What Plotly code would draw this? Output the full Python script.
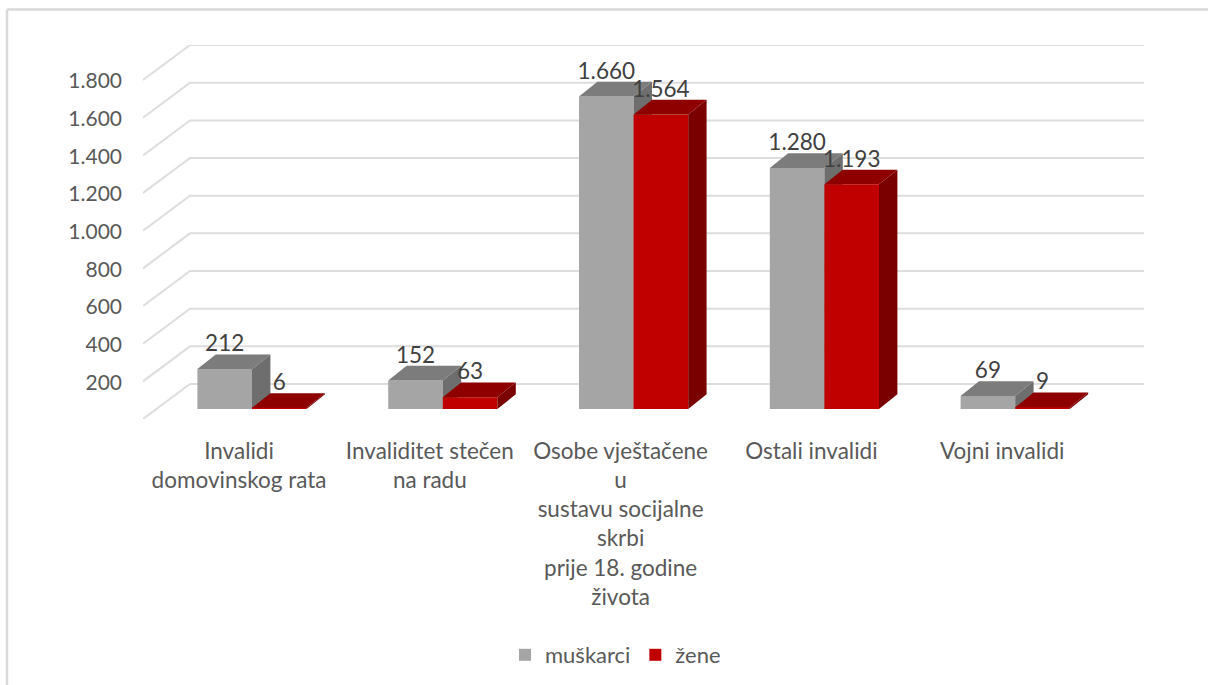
import plotly.graph_objects as go

# ---- data ----
categories = ["Invalidi<br>domovinskog rata", "Invaliditet stečen<br>na radu",
              "Osobe vještačene<br>u<br>sustavu socijalne<br>skrbi<br>prije 18. godine<br>života",
              "Ostali invalidi", "Vojni invalidi"]
muskarci = [212, 152, 1660, 1280, 69]
zene = [6, 63, 1564, 1193, 9]
y_ticks = [200, 400, 600, 800, 1000, 1200, 1400, 1600, 1800]
y_tick_text = ["200", "400", "600", "800", "1.000", "1.200", "1.400", "1.600", "1.800"]
wall_levels = [0] + y_ticks
label_text_m = ["212", "152", "1.660", "1.280", "69"]
label_text_z = ["6", "63", "1.564", "1.193", "9"]

# ---- geometry (pixels of the 1208x685 page) ----
W, H = 1208, 685
PX_L, PX_R, PX_T, PX_B = 143, 1144, 45, 419
PX_ZERO_X, PX_STEP = 252.0, 190.8        # first group centre, group spacing
PX_ZERO_Y, PX_PER_UNIT = 409.0, 0.1883   # value 0 on the bar front plane

def dx(px): return px / PX_STEP
def dy(px): return px / PX_PER_UNIT

xrange = [(PX_L - PX_ZERO_X) / PX_STEP, (PX_R - PX_ZERO_X) / PX_STEP]
yrange = [(PX_ZERO_Y - PX_B) / PX_PER_UNIT, (PX_ZERO_Y - PX_T) / PX_PER_UNIT]
BAR_W = dx(54.6)
DEP_X, DEP_Y = dx(18.4), dy(14.7)
FRONT_Y = dy(-10)   # wall-floor front plane relative to bar plane
BACK_Y = dy(25)
WALL_X = xrange[0] + dx(47)

FONT = "Lato"
TICK_C = "#595959"
LABEL_C = "#404040"
GRID_C = "#dddddd"

fig = go.Figure()

# gridlines on wall and side wall
gx, gy = [], []
for v in wall_levels:
    gx += [xrange[0], WALL_X, xrange[1], None]
    gy += [v + FRONT_Y, v + BACK_Y, v + BACK_Y, None]
fig.add_trace(go.Scatter(x=gx, y=gy, mode="lines", line=dict(color=GRID_C, width=2),
                         showlegend=False, hoverinfo="skip", zorder=0))

def bar_series(name, values, offset, c_front, c_top, c_side, z):
    xs = [i + offset for i in range(len(values))]
    fig.add_trace(go.Bar(x=xs, y=values, width=BAR_W, name=name, marker=dict(color=c_front, line=dict(width=0)),
                         zorder=z))
    sx, sy, tx, ty = [], [], [], []
    for x, v in zip(xs, values):
        l, r = x - BAR_W / 2, x + BAR_W / 2
        tx += [l, l + DEP_X, r + DEP_X, r, l, None]
        ty += [v, v + DEP_Y, v + DEP_Y, v, v, None]
        sx += [r, r + DEP_X, r + DEP_X, r, r, None]
        sy += [0, DEP_Y, v + DEP_Y, v, 0, None]
    fig.add_trace(go.Scatter(x=sx, y=sy, mode="none", fill="toself", fillcolor=c_side,
                             showlegend=False, hoverinfo="skip", zorder=z))
    fig.add_trace(go.Scatter(x=tx, y=ty, mode="none", fill="toself", fillcolor=c_top,
                             showlegend=False, hoverinfo="skip", zorder=z))

bar_series("muškarci", muskarci, -BAR_W / 2, "#a5a5a5", "#7c7c7c", "#6e6e6e", 1)
bar_series("žene", zene, BAR_W / 2, "#c00000", "#8e0000", "#7a0000", 2)

for values, text, offset in ((muskarci, label_text_m, -BAR_W / 2), (zene, label_text_z, BAR_W / 2)):
    fig.add_trace(go.Scatter(x=[i + offset for i in range(len(values))],
                             y=[v + DEP_Y - dy(2.5) for v in values], mode="text", text=text,
                             textposition="top center",
                             textfont=dict(family=FONT, size=22.5, color=LABEL_C),
                             showlegend=False, hoverinfo="skip", zorder=3))

def px_to_paper_x(p): return (p - PX_L) / (PX_R - PX_L)
def px_to_paper_y(p): return (PX_B - p) / (PX_B - PX_T)

frame = dict(type="line", xref="paper", yref="paper", line=dict(color="#d9d9d9", width=2.5))
shapes = [
    dict(frame, x0=px_to_paper_x(7), x1=px_to_paper_x(W), y0=px_to_paper_y(9.5), y1=px_to_paper_y(9.5)),
    dict(frame, x0=px_to_paper_x(7), x1=px_to_paper_x(7), y0=px_to_paper_y(9.5), y1=px_to_paper_y(H)),
]

fig.update_layout(
    width=W, height=H, autosize=False,
    margin=dict(l=PX_L, r=W - PX_R, t=PX_T, b=H - PX_B, pad=0, autoexpand=False),
    paper_bgcolor="white", plot_bgcolor="white",
    barmode="overlay",
    shapes=shapes,
    font=dict(family=FONT, color=TICK_C),
    xaxis=dict(range=xrange, tickmode="array", tickvals=[i - dx(13) for i in range(5)], ticktext=categories,
               showgrid=False, zeroline=False, showline=False, ticks="", tickangle=0, automargin=False,
               tickfont=dict(family=FONT, size=22.5, color=TICK_C), ticklabelstandoff=16),
    yaxis=dict(range=yrange, tickmode="array", tickvals=[v + FRONT_Y - dy(1) for v in y_ticks], ticktext=y_tick_text,
               showgrid=False, zeroline=False, showline=False, ticks="", automargin=False,
               tickfont=dict(family=FONT, size=21, color=TICK_C), ticklabelstandoff=20),
    legend=dict(orientation="h", x=px_to_paper_x(505), y=px_to_paper_y(655), xanchor="left", yanchor="middle",
                font=dict(family=FONT, size=22, color=TICK_C), itemwidth=30, bgcolor="rgba(0,0,0,0)"),
)

fig.write_html("out.html", config={"displayModeBar": False},
               post_script="document.body.style.margin='0';document.body.style.overflow='hidden';")
